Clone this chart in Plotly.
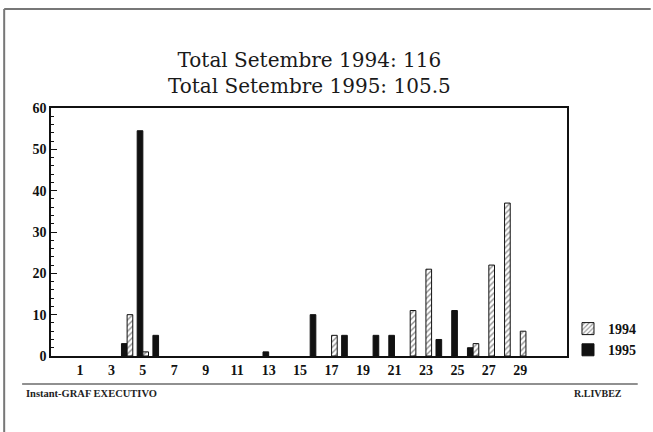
import plotly.graph_objects as go

days = list(range(1, 31))
# values per day of September (days without a bar are missing)
vals_1994 = {4: 10, 5: 1, 17: 5, 22: 11, 23: 21, 26: 3, 27: 22, 28: 37, 29: 6}
vals_1995 = {4: 3, 5: 54.5, 6: 5, 13: 1, 16: 10, 18: 5, 20: 5, 21: 5, 24: 4, 25: 11, 26: 2}
y1994 = [vals_1994.get(d) for d in days]
y1995 = [vals_1995.get(d) for d in days]
tick_days = list(range(1, 30, 2))
title_lines = ["Total Setembre 1994: 116", "Total Setembre 1995: 105.5"]

# plot area in pixels
L, R, T, B = 51, 569, 108, 356
W, H = 653, 432
def px(x):
    return (x - L) / (R - L)
def py(y):
    return (B - y) / (B - T)

fig = go.Figure()
fig.add_trace(go.Bar(
    x=days, y=y1995, name="1995",
    marker=dict(color="#111111", line=dict(color="#111111", width=1)),
))
fig.add_trace(go.Bar(
    x=days, y=y1994, name="1994",
    marker=dict(color="white", line=dict(color="#111111", width=1),
                pattern=dict(shape="/", fgcolor="#222222", bgcolor="white", size=4, solidity=0.35)),
))

tickfont = dict(family="Liberation Serif", size=14, color="#111111", weight="bold")
fig.update_layout(
    width=W, height=H,
    margin=dict(l=L, r=W - R, t=T, b=H - B, pad=0),
    paper_bgcolor="white", plot_bgcolor="white",
    barmode="group", bargap=0.28, bargroupgap=0.0,
    showlegend=True,
    legend=dict(x=px(570), y=py(313), xanchor="left", yanchor="top",
                traceorder="reversed",
                font=dict(family="Liberation Serif", size=14, color="#111111", weight="bold"),
                bgcolor="rgba(0,0,0,0)", itemwidth=30, tracegroupgap=6),
    xaxis=dict(range=[-0.84, 31.97], tickvals=tick_days, ticktext=[str(d) for d in tick_days],
               ticks="", showgrid=False, zeroline=False,
               showline=True, linecolor="#111111", linewidth=1.5, mirror=True,
               tickfont=tickfont),
    yaxis=dict(range=[0, 60], dtick=10, ticks="inside", ticklen=6, tickcolor="#111111",
               minor=dict(dtick=2, ticks="inside", ticklen=3, tickcolor="#111111"),
               showgrid=False, zeroline=False,
               showline=True, linecolor="#111111", linewidth=1.5, mirror=True,
               tickfont=tickfont),
    shapes=[
        # outer frame (top and left)
        dict(type="line", xref="paper", yref="paper", x0=px(4), x1=px(653), y0=py(9), y1=py(9),
             line=dict(color="#777777", width=2)),
        dict(type="line", xref="paper", yref="paper", x0=px(4), x1=px(4), y0=py(9), y1=py(432),
             line=dict(color="#777777", width=2)),
        # footer line
        dict(type="line", xref="paper", yref="paper", x0=px(22), x1=px(640), y0=py(384), y1=py(384),
             line=dict(color="#222222", width=1.2)),
    ],
    annotations=[
        dict(text=title_lines[0] + "<br>" + title_lines[1], xref="paper", yref="paper",
             x=0.5, y=py(73), xanchor="center", yanchor="middle", showarrow=False,
             font=dict(family="DejaVu Serif", size=20, color="#1a1a1a")),
        dict(text="Instant-GRAF EXECUTIVO", xref="paper", yref="paper", x=px(24), y=py(393),
             xanchor="left", yanchor="middle", showarrow=False,
             font=dict(family="Liberation Serif", size=10.5, color="#222222", weight="bold")),
        dict(text="R.LIVBEZ", xref="paper", yref="paper", x=px(626), y=py(393),
             xanchor="right", yanchor="middle", showarrow=False,
             font=dict(family="Liberation Serif", size=10, color="#222222", weight="bold")),
    ],
)

fig.write_html("out.html", config={"displayModeBar": False},
               post_script="document.body.style.margin='0px';")
